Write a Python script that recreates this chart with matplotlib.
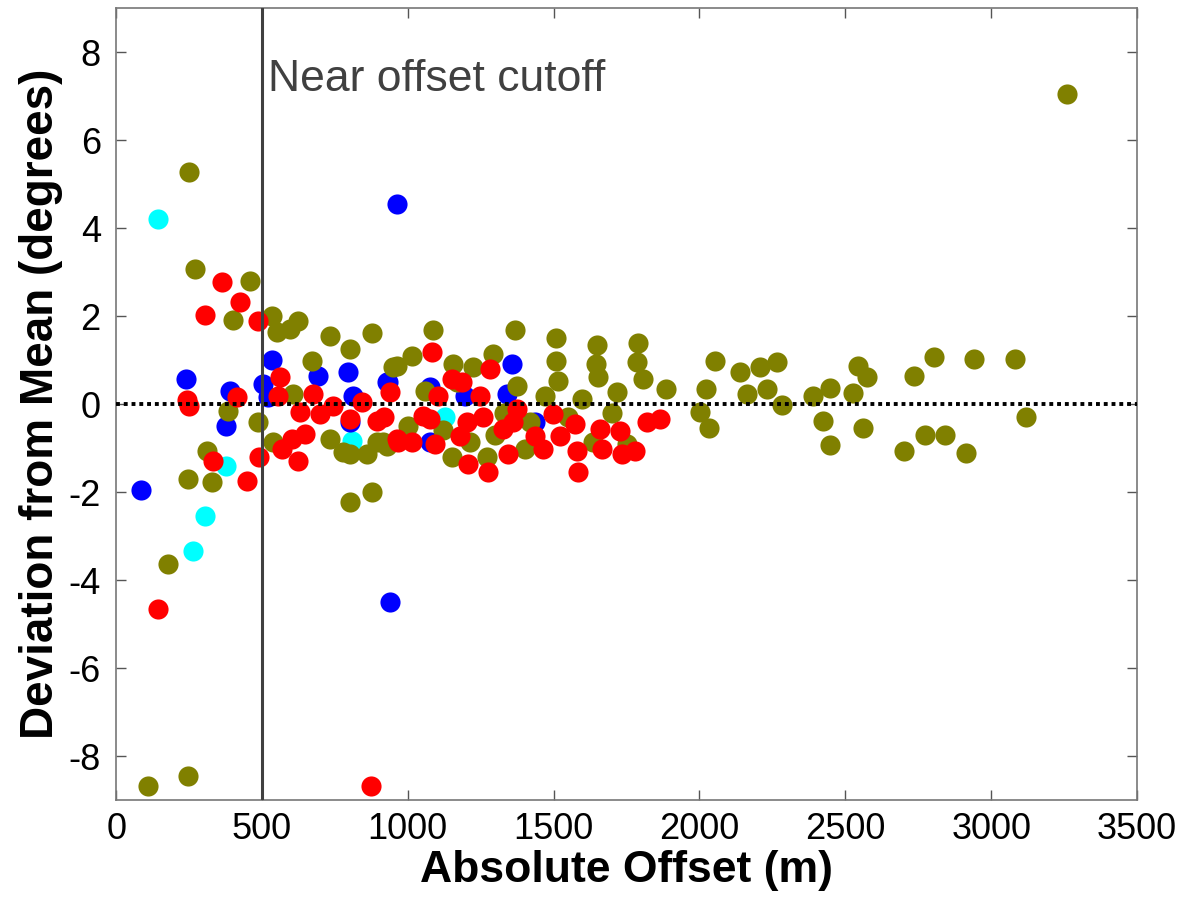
import matplotlib
matplotlib.use("Agg")
import matplotlib.pyplot as plt

# olive points
olive_x = [3260, 250, 270, 460, 400, 535, 552, 596, 624, 734, 802, 877, 672, 950, 607,
           384, 487, 538, 734, 778, 802, 860, 895, 929, 312, 247, 329, 802, 877, 178,
           110, 247, 1087, 1368, 1508, 1649, 1789, 1508, 1645, 1786, 1515, 1652, 1806,
           1885, 1470, 1597, 1717, 1374, 1292, 1224, 1155, 963, 1014, 1059, 1635, 1152,
           1272, 1402, 915, 1213, 2053, 2139, 2208, 2266, 2232, 2163, 2022, 2283, 2002,
           2033, 2389, 2448, 2526, 2544, 2574, 2424, 2448, 2561, 2736, 2804, 2701, 2773,
           2842, 2941, 3082, 3120, 2914, 1000, 1120, 1300, 1420, 1550, 1700, 1750, 1170, 1330]
olive_y = [7.05, 5.28, 3.08, 2.80, 1.92, 2.00, 1.64, 1.70, 1.89, 1.55, 1.25, 1.61, 0.98, 0.84, 0.23,
           -0.16, -0.40, -0.86, -0.80, -1.09, -1.14, -1.14, -0.86, -0.95, -1.07, -1.70, -1.77, -2.23, -2.00, -3.64,
           -8.68, -8.45, 1.68, 1.68, 1.50, 1.34, 1.38, 0.98, 0.90, 0.95, 0.52, 0.61, 0.57,
           0.34, 0.18, 0.11, 0.27, 0.41, 1.14, 0.84, 0.91, 0.86, 1.09, 0.30, -0.86, -1.20,
           -1.20, -1.02, -0.86, -0.86, 0.98, 0.72, 0.84, 0.95, 0.34, 0.23, 0.34, -0.02, -0.18,
           -0.55, 0.18, 0.36, 0.25, 0.86, 0.61, -0.39, -0.93, -0.55, 0.64, 1.07, -1.07, -0.70,
           -0.70, 1.02, 1.02, -0.30, -1.11, -0.50, -0.60, -0.70, -0.40, -0.30, -0.20, -0.90, 0.50, -0.20]

# red points
red_x = [144, 363, 425, 305, 487, 243, 250, 415, 562, 555, 675, 333, 490, 449, 569, 603, 648,
         624, 631, 699, 744, 802, 843, 895, 939, 963, 875, 1083, 1282, 1152, 1186, 1104, 1248,
         1374, 920, 1052, 1076, 1203, 1258, 1327, 1361, 1498, 1573, 1659, 1728, 1820, 1865,
         967, 1014, 1094, 1179, 1207, 1275, 1344, 1436, 1464, 1522, 1580, 1584, 1666, 1735, 1779]
red_y = [-4.65, 2.77, 2.32, 2.02, 1.89, 0.10, -0.05, 0.16, 0.61, 0.18, 0.23, -1.30, -1.20, -1.75, -1.02, -0.80, -0.68,
         -1.30, -0.18, -0.23, -0.05, -0.34, 0.05, -0.39, 0.27, -0.80, -8.68, 1.18, 0.80, 0.57, 0.50, 0.18, 0.18,
         -0.11, -0.30, -0.27, -0.34, -0.41, -0.30, -0.57, -0.41, -0.23, -0.45, -0.57, -0.61, -0.41, -0.34,
         -0.86, -0.86, -0.91, -0.73, -1.36, -1.55, -1.14, -0.73, -1.02, -0.73, -1.07, -1.55, -1.02, -1.14, -1.07]

# blue points
blue_x = [86, 240, 391, 377, 535, 504, 521, 692, 795, 812, 802, 929, 963, 933, 1357, 1076,
          1196, 1340, 1436, 1076, 939]
blue_y = [-1.95, 0.57, 0.30, -0.50, 1.00, 0.45, 0.16, 0.64, 0.73, 0.18, -0.41, 0.50, 4.55, 0.50, 0.91, 0.39,
          0.18, 0.23, -0.41, -0.86, -4.50]

# cyan points
cyan_x = [145, 377, 305, 264, 809, 1128]
cyan_y = [4.20, -1.41, -2.55, -3.35, -0.84, -0.30]

cutoff = 500

plt.rcParams["font.family"] = ["Liberation Sans", "DejaVu Sans"]
plt.rcParams["axes.unicode_minus"] = False
fig = plt.figure(figsize=(11.85, 9.06), dpi=100)
ax = fig.add_axes([0.098, 0.117, 0.8615, 0.874])

s = 210
ax.scatter(cyan_x, cyan_y, s=s, c="#00ffff", linewidths=0, zorder=2)
ax.scatter(blue_x, blue_y, s=s, c="#0000ff", linewidths=0, zorder=3)
ax.scatter(olive_x, olive_y, s=s, c="#808000", linewidths=0, zorder=4)
ax.scatter(red_x, red_y, s=s, c="#ff0000", linewidths=0, zorder=5)

ax.axhline(0, color="black", ls=(0, (1, 1)), lw=2.8, zorder=6)
ax.axvline(cutoff, color="#404040", lw=2.2, zorder=6)
ax.text(cutoff + 20, 7.11, "Near offset cutoff", fontsize=32, color="#404040", va="baseline")

ax.set_xlim(0, 3500)
ax.set_ylim(-9, 9)
ax.set_xticks(range(0, 3501, 500))
ax.set_yticks(range(-8, 9, 2))
ax.tick_params(direction="in", length=7, width=1, labelsize=26, top=True, right=True,
               color="#555555")
ax.tick_params(axis="y", pad=11)
ax.tick_params(axis="x", pad=9)
for sp in ax.spines.values():
    sp.set_color("#777777")
    sp.set_linewidth(1.2)

ax.set_xlabel("Absolute Offset (m)", fontsize=32, fontweight="bold", labelpad=2)
ax.set_ylabel("Deviation from Mean (degrees)", fontsize=33, fontweight="bold", labelpad=4)

fig.savefig("out.png", dpi=100)
